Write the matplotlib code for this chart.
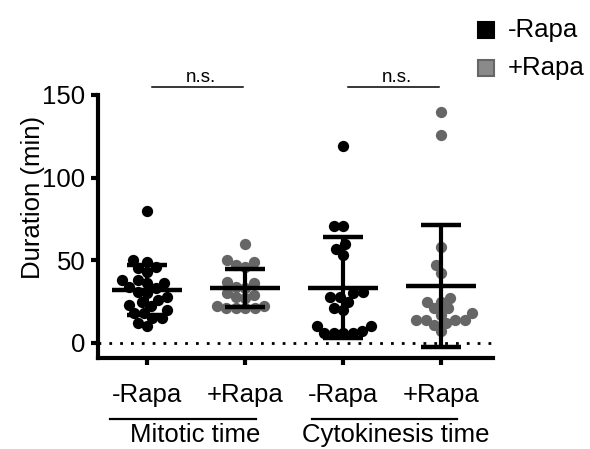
import matplotlib

matplotlib.use("Agg")
import matplotlib.pyplot as plt
import numpy as np
from matplotlib.patches import Rectangle
from matplotlib.transforms import blended_transform_factory

plt.rcParams["font.family"] = ["Liberation Sans", "DejaVu Sans"]

# values (minutes)
mitotic_minus = [80, 50, 49, 46, 45, 43, 38, 38, 36, 36, 34, 33, 31, 30, 28,
                 26, 25, 23, 22, 20, 18, 18, 15, 15, 12, 10]
mitotic_plus = [60, 50, 49, 47, 46, 37, 36, 34, 33, 30, 29, 28, 27, 22, 22,
                21, 21, 21, 21]
cyto_minus = [119, 71, 71, 60, 57, 53, 31, 30, 28, 28, 25, 21, 20, 10, 10,
              7, 6, 6, 6, 6]
cyto_plus = [140, 126, 58, 47, 42, 27, 25, 25, 21, 21, 18, 17, 14, 14, 14,
             14, 12, 11, 7]
groups = [mitotic_minus, mitotic_plus, cyto_minus, cyto_plus]
means = [32, 33, 33.3, 34.3]
sds = [15, 11.5, 30.5, 37]
tick_labels = ["-Rapa", "+Rapa", "-Rapa", "+Rapa"]
conditions = ["-Rapa", "+Rapa"]
sections = ["Mitotic time", "Cytokinesis time"]
ns_pairs = [(0, 1), (2, 3)]

BLACK = "#000000"
GREY = "#666666"
colors = [BLACK, GREY, BLACK, GREY]

W, H = 590, 449
fig = plt.figure(figsize=(W / 100, H / 100), dpi=100)
ax_l, ax_r, ax_t, ax_b = 97.7, 493, 95, 358
ax = fig.add_axes([ax_l / W, 1 - ax_b / H, (ax_r - ax_l) / W, (ax_b - ax_t) / H])
ax.set_xlim(-0.503, 3.53)
ax.set_ylim(-9.2, 150)

px_x = (ax_r - ax_l) / (3.53 + 0.503)
px_y = (ax_b - ax_t) / (150 + 9.2)


def swarm_offsets(values, diam=9.5):
    """Simple beeswarm in pixel space, returns x offsets in data units."""
    vals = np.asarray(values, dtype=float)
    placed = []
    offs = np.zeros(len(vals))
    cands = sorted(np.arange(-40, 40.01, 0.5), key=abs)
    for i in np.argsort(vals):
        y = vals[i] * px_y
        for c in cands:
            if all((c - px) ** 2 + (y - py) ** 2 >= diam ** 2 for px, py in placed):
                break
        placed.append((c, y))
        offs[i] = c / px_x
    return offs


ax.axhline(0, color="black", lw=2, ls=(0, (1, 2.9)), zorder=1)

for i, vals in enumerate(groups):
    xs = i + swarm_offsets(vals)
    ax.scatter(xs, vals, s=66, color=colors[i], linewidths=0, zorder=2)

for i, (m, sd) in enumerate(zip(means, sds)):
    ax.plot([i - 0.36, i + 0.36], [m, m], color="black", lw=3.2,
            solid_capstyle="butt", zorder=3)
    ax.plot([i, i], [m - sd, m + sd], color="black", lw=3.0,
            solid_capstyle="butt", zorder=3)
    for yy in (m - sd, m + sd):
        ax.plot([i - 0.2, i + 0.2], [yy, yy], color="black", lw=3.2,
                solid_capstyle="butt", zorder=3)

# n.s. brackets
for a, b in ns_pairs:
    ax.plot([a + 0.05, b - 0.02], [154.6, 154.6], color="black", lw=1.1,
            clip_on=False)
    ax.text((a + b) / 2 + 0.05, 157.8, "n.s.", ha="center", va="baseline",
            fontsize=13.5, clip_on=False)

for side in ("top", "right"):
    ax.spines[side].set_visible(False)
for side in ("left", "bottom"):
    ax.spines[side].set_linewidth(3)
ax.tick_params(width=3, length=5, labelsize=18.5)
ax.tick_params(axis="y", pad=4)
ax.tick_params(axis="x", pad=13)
ax.set_yticks([0, 50, 100, 150])
ax.set_xticks(range(4))
ax.set_xticklabels(tick_labels)

fig.text(33 / W, 1 - 197 / H, "Duration (min)", rotation=90, ha="center",
         va="center", fontsize=18.5)

# section lines and labels under the x axis
tr = blended_transform_factory(ax.transData, ax.transAxes)
y_line = (ax_b - 419) / (ax_b - ax_t)
y_text = (ax_b - 423) / (ax_b - ax_t)
for (x0, x1), xc, name in zip([(-0.378, 1.112), (1.684, 3.163)], [0.49, 2.54],
                              sections):
    ax.plot([x0, x1], [y_line, y_line], color="black", lw=1.6, transform=tr,
            clip_on=False)
    ax.text(xc, y_text, name, ha="center", va="top", fontsize=18.5,
            transform=tr)

# legend drawn by hand
for k, (lab, fc, ec) in enumerate(zip(conditions, [BLACK, "#8a8a8a"],
                                      [BLACK, GREY])):
    yc = 30 + k * 38
    fig.add_artist(Rectangle((478 / W, 1 - (yc + 8) / H), 16 / W, 16 / H,
                             facecolor=fc, edgecolor=ec, lw=1.5,
                             transform=fig.transFigure))
    fig.text(508 / W, 1 - yc / H, lab, ha="left", va="center", fontsize=18.5)

fig.savefig("out.png", dpi=100)
